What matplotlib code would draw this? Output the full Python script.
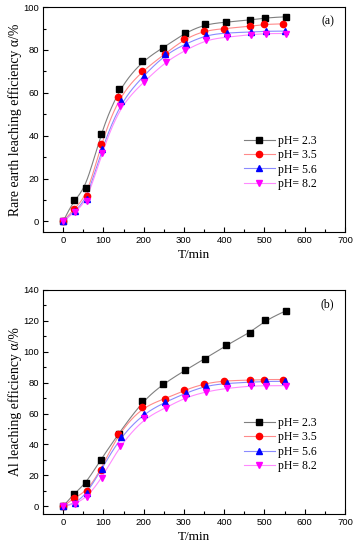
import numpy as np
import matplotlib.pyplot as plt
from matplotlib.ticker import MultipleLocator

t_23 = [0, 27, 57, 93, 138, 197, 248, 303, 352, 404, 465, 502, 553]
t_35 = [0, 28, 60, 94, 137, 195, 252, 300, 350, 400, 464, 500, 547]
t_56 = [0, 30, 60, 96, 143, 200, 254, 306, 356, 406, 467, 505, 552]
t_82 = [0, 30, 60, 96, 141, 200, 255, 303, 356, 406, 467, 505, 553]

# (a) rare earth leaching efficiency, %
re_23 = [0, 10, 15.5, 41, 62, 75, 81, 88, 92, 93, 94, 95, 95.5]
re_35 = [0, 6, 12, 36, 58, 70, 78, 85, 89, 90, 91, 92, 92.2]
re_56 = [0, 5, 10.6, 34, 56, 68, 78, 83, 87, 88, 88.4, 88.8, 88.8]
re_82 = [0, 4.5, 9.5, 32, 54, 65, 74.6, 79.8, 84.8, 86, 87.2, 87.7, 87.7]

# (b) Al leaching efficiency, %
al_23 = [0, 8, 15, 30, 47, 68, 79, 88, 95.4, 104, 112.4, 120.2, 126.4]
al_35 = [0, 5.4, 10, 23.7, 47, 64, 69.4, 75, 79.3, 81.2, 81.6, 82, 82]
al_56 = [0, 1.8, 8.6, 24.3, 45, 60, 67.4, 73.4, 78, 79.5, 80.3, 80.8, 80.8]
al_82 = [0, 1.5, 6, 18, 39.3, 56.8, 63.7, 70.3, 74.2, 76.3, 77.8, 78, 78]

labels = ['pH= 2.3', 'pH= 3.5', 'pH= 5.6', 'pH= 8.2']
mcol = ['black', 'red', 'blue', 'magenta']
lcol = ['#7f7f7f', '#ff8a8a', '#8a8aff', '#ff8aff']
marks = ['s', 'o', '^', 'v']


def bspline(xs, ys, n=30):
    # uniform cubic B-spline with the points as control points (clamped ends)
    px = np.r_[[xs[0]] * 2, xs, [xs[-1]] * 2].astype(float)
    py = np.r_[[ys[0]] * 2, ys, [ys[-1]] * 2].astype(float)
    t = np.linspace(0, 1, n)
    b0 = (1 - t) ** 3 / 6
    b1 = (3 * t**3 - 6 * t**2 + 4) / 6
    b2 = (-3 * t**3 + 3 * t**2 + 3 * t + 1) / 6
    b3 = t**3 / 6
    cx, cy = [], []
    for i in range(len(px) - 3):
        cx.append(b0 * px[i] + b1 * px[i + 1] + b2 * px[i + 2] + b3 * px[i + 3])
        cy.append(b0 * py[i] + b1 * py[i + 1] + b2 * py[i + 2] + b3 * py[i + 3])
    return np.concatenate(cx), np.concatenate(cy)


serif = 'Liberation Serif'
sans = 'Liberation Sans'

fig = plt.figure(figsize=(3.57, 5.5), dpi=100)
ax1 = fig.add_axes([0.1204, 0.578, 0.846, 0.409])
ax2 = fig.add_axes([0.1204, 0.0655, 0.846, 0.4075])

panels = [
    (ax1, [re_23, re_35, re_56, re_82], 'Rare earth leaching efficiency α/%', '(a)', 100, 20),
    (ax2, [al_23, al_35, al_56, al_82], 'Al leaching efficiency α/%', '(b)', 140, 20),
]
times = [t_23, t_35, t_56, t_82]

for ax, series, ylab, tag, ytop, ystep in panels:
    for k in range(4):
        sx, sy = bspline(times[k], series[k])
        ax.plot(sx, sy, color=lcol[k], lw=0.8, zorder=2)
    for k in range(4):
        ax.plot(times[k], series[k], ls='none', marker=marks[k], color=mcol[k],
                ms=4.5, zorder=3)
    # legend proxies: light line + marker
    handles = [ax.plot([], [], color=lcol[k], lw=0.8, marker=marks[k], mfc=mcol[k],
                       mec=mcol[k], ms=4.5)[0] for k in range(4)]
    ax.legend(handles, labels, loc='center left', bbox_to_anchor=(0.63, 0.31),
              frameon=False, prop={'family': serif, 'size': 8.5},
              handlelength=2.6, handletextpad=0.3, labelspacing=0.2)
    ax.set_xlim(-50, 700)
    ax.set_ylim(-5, ytop)
    ax.xaxis.set_major_locator(MultipleLocator(100))
    ax.xaxis.set_minor_locator(MultipleLocator(50))
    ax.yaxis.set_major_locator(MultipleLocator(ystep))
    ax.yaxis.set_minor_locator(MultipleLocator(ystep / 2))
    ax.tick_params(which='both', direction='in', top=False, right=False,
                   labelsize=6.8, pad=3)
    ax.tick_params(which='major', length=3.5, width=0.8)
    ax.tick_params(which='minor', length=2, width=0.8)
    for lab in ax.get_xticklabels() + ax.get_yticklabels():
        lab.set_family(sans)
    for s in ax.spines.values():
        s.set_linewidth(0.8)
    ax.set_xlabel('T/min', family=serif, fontsize=9.5, labelpad=3)
    ax.set_ylabel(ylab, family=serif, fontsize=9.9, labelpad=1)
    ax.text(0.965, 0.935, tag, transform=ax.transAxes, family=serif, fontsize=8.5,
            ha='right', va='center')

fig.savefig('out.png', dpi=100)
